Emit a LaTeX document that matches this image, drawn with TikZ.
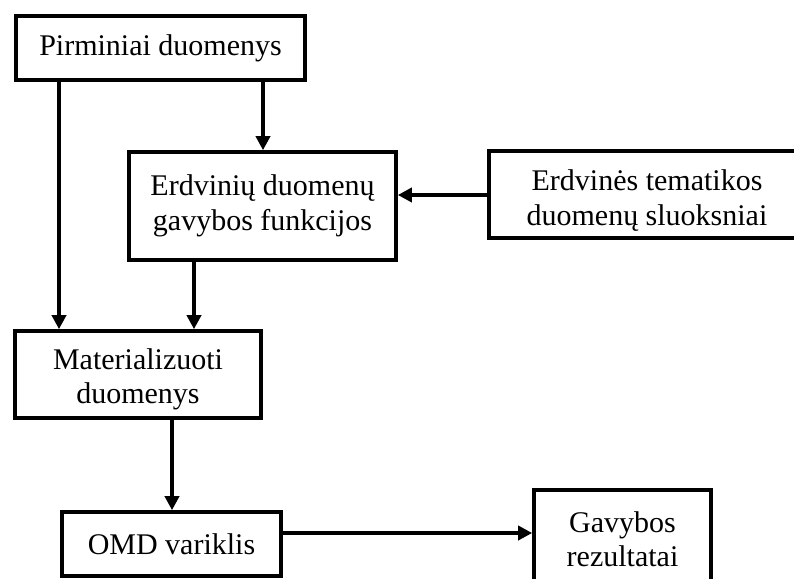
\documentclass[tikz,border=0pt]{standalone}
\usepackage{fontspec}
\setmainfont{Liberation Serif}
\usetikzlibrary{arrows.meta}
\begin{document}
\begin{tikzpicture}[x=1pt,y=-1pt,
  txt/.style={inner sep=0pt, align=center, font=\fontsize{30}{34.5}\selectfont},
  box/.style={draw, line width=3.6pt, rectangle, txt},
  arr/.style={line width=3.6pt, -{Triangle[length=14pt,width=14pt]}}]
  \useasboundingbox (0,0) rectangle (794,578);
  \clip (0,0) rectangle (794,578);

  % boxes
  \node[box, minimum width=289pt, minimum height=64pt] (b1) at (160.5,48) {Pirminiai duomenys};
  \node[box, minimum width=267pt, minimum height=108pt] (b2) at (262.5,206) {Erdvinių duomenų\\gavybos funkcijos};
  \node[box, minimum width=316pt, minimum height=87pt] (b3) at (647,194.5) {};
  \node[txt] (t3) at ([yshift=-6pt]b3.center) {Erdvinės tematikos\\duomenų sluoksniai};
  \node[box, minimum width=246pt, minimum height=87pt] (b4) at (138,374.5) {};
  \node[txt] (t4) at ([yshift=-5pt]b4.center) {Materializuoti\\duomenys};
  \node[box, minimum width=219pt, minimum height=64pt] (b5) at (171.5,544) {OMD variklis};
  \node[box, minimum width=177pt, minimum height=98pt] (b6) at (622.5,539) {Gavybos\\rezultatai};

  % column and row positions of the connectors
  \coordinate (xa) at (59,0);
  \coordinate (xb) at (263,0);
  \coordinate (xc) at (194,0);
  \coordinate (xd) at (172,0);
  \coordinate (yh) at (0,195);
  \coordinate (yk) at (0,533);

  % connectors
  \draw[arr] (b1.south -| xa) -- (b4.north -| xa);
  \draw[arr] (b1.south -| xb) -- (b2.north -| xb);
  \draw[arr] (b3.west |- yh) -- (b2.east |- yh);
  \draw[arr] (b2.south -| xc) -- (b4.north -| xc);
  \draw[arr] (b4.south -| xd) -- (b5.north -| xd);
  \draw[arr] (b5.east |- yk) -- (b6.west |- yk);
\end{tikzpicture}
\end{document}
